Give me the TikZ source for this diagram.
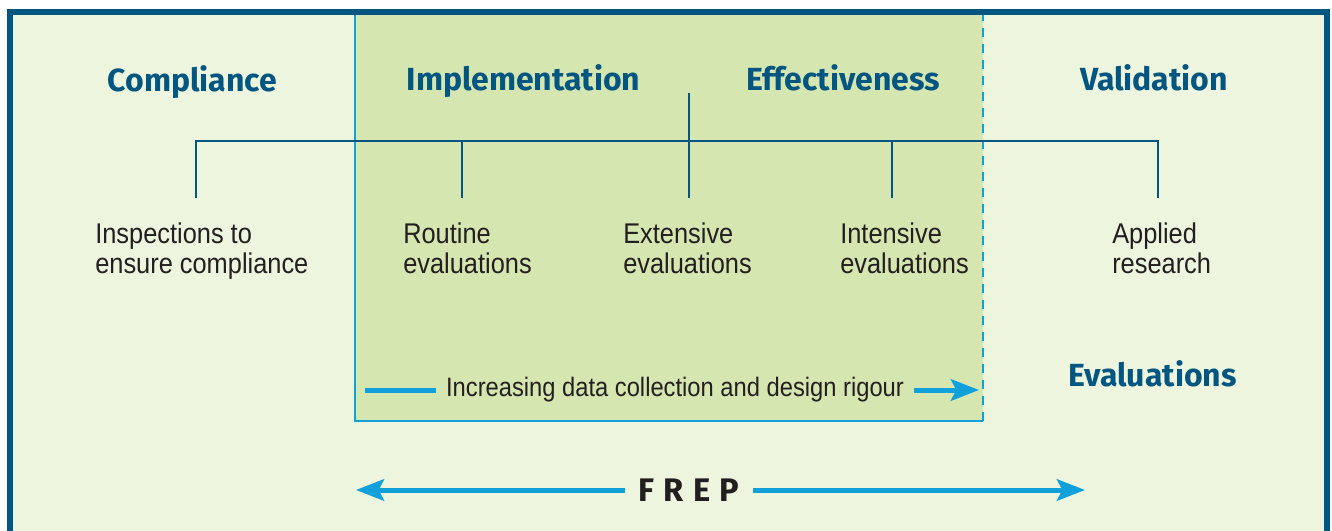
\documentclass[tikz,border=0pt]{standalone}
\usepackage{fontspec}
\usepackage{xcolor}
\usetikzlibrary{arrows.meta}
\setmainfont{Liberation Sans}
\newfontfamily\headfont[Ligatures=NoCommon]{Fira Sans}
\newfontfamily\bodyfont[FakeStretch=0.89]{Liberation Sans}
\definecolor{darkblue}{RGB}{0,86,128}
\definecolor{palegreen}{RGB}{237,245,222}
\definecolor{innergreen}{RGB}{214,230,176}
\definecolor{lightblue}{RGB}{16,160,218}
\definecolor{textdark}{RGB}{35,31,32}

\begin{document}
\begin{tikzpicture}[x=0.75pt,y=0.75pt,yscale=-1,xscale=1,
	headtext/.style={anchor=base, inner sep=0.75pt, text=darkblue, font=\headfont\bfseries\fontsize{24}{28}\selectfont},
	evaltext/.style={anchor=base west, align=left, inner sep=0pt, text=textdark, font=\bodyfont\fontsize{21.4}{22.5}\selectfont},
	treeline/.style={draw=darkblue, line width=2pt},
	bluearrow/.style={draw=lightblue, line width=3.75pt, -{Stealth[length=21pt,width=16pt,inset=4pt]}},
]
	\useasboundingbox (0,0) rectangle (1332,531);
	\clip (0,0) rectangle (1332,531);

	%Shape: Rectangle [id:background]
	\fill [palegreen] (10,12) rectangle (1327,545);
	%Shape: Rectangle [id:frepzone]
	\fill [innergreen] (355,12) rectangle (983,421);
	\draw [lightblue, line width=2pt] (355,12) -- (355,421) -- (983,421);
	\draw [lightblue, line width=2.2pt, dash pattern={on 7pt off 5pt}] (983,421) -- (983,12);
	%Shape: Frame [id:outerframe]
	\draw [darkblue, line width=4pt] (10,545) -- (10,12) -- (1327,12) -- (1327,545);

	% Tree
	\coordinate (top) at (689,93);
	\coordinate (barL) at (196,141);
	\coordinate (barR) at (1158,141);
	\coordinate (stubA) at (196,198);
	\coordinate (stubB) at (462,198);
	\coordinate (stubC) at (689,198);
	\coordinate (stubD) at (892,198);
	\coordinate (stubE) at (1158,198);
	\draw [treeline] (stubA) -- (barL) -- (barR) -- (stubE);
	\draw [treeline] (stubB |- barL) -- (stubB);
	\draw [treeline] (top) -- (stubC);
	\draw [treeline] (stubD |- barL) -- (stubD);

	% Text Node
	\node [headtext] (compliance) at (192.5,92) {Compliance};
	% Text Node
	\node [headtext] (implementation) at (523.5,91) {Implementation};
	% Text Node
	\node [headtext] (effectiveness) at (843,91) {Ef\kern0pt fectiveness};
	% Text Node
	\node [headtext] (validation) at (1154,91) {Validation};
	% Text Node
	\node [headtext] (evaluations) at (1152.5,386.5) {Evaluations};

	% Text Node (base is the last line)
	\node [evaltext] (inspections) at (95,273.5) {Inspections to\\ensure compliance};
	% Text Node
	\node [evaltext] (routine) at (403,273.5) {Routine\\evaluations};
	% Text Node
	\node [evaltext] (extensive) at (623,273.5) {Extensive\\evaluations};
	% Text Node
	\node [evaltext] (intensive) at (840,273.5) {Intensive\\evaluations};
	% Text Node
	\node [evaltext] (applied) at (1112,273.5) {Applied\\research};

	% Rigour arrow
	\node [inner xsep=7.5pt, inner ysep=0pt, text=textdark, font=\bodyfont\fontsize{20}{24}\selectfont] (rigour) at (675,390) {Increasing data collection and design rigour};
	\coordinate (rigourstart) at (365,390);
	\coordinate (rigourend) at (979,390);
	\draw [draw=lightblue, line width=3.75pt] (rigourstart) -- (rigour);
	\draw [bluearrow] (rigour) -- (rigourend);

	% FREP arrow
	\node [inner xsep=10pt, inner ysep=0pt, text=textdark, font=\headfont\bfseries\fontsize{24.5}{28}\selectfont] (frep) at (689,490) {F\kern7pt R\kern7pt E\kern7pt P};
	\coordinate (frepleft) at (356,490);
	\coordinate (frepright) at (1085,490);
	\draw [bluearrow] (frep) -- (frepleft);
	\draw [bluearrow] (frep) -- (frepright);

\end{tikzpicture}
\end{document}
